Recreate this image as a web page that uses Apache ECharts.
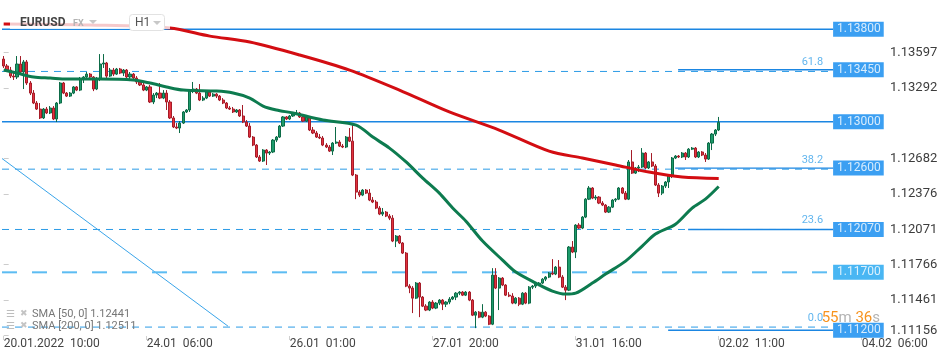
<!DOCTYPE html>
<html><head><meta charset="utf-8">
<script src="https://cdn.jsdelivr.net/npm/echarts@6/dist/echarts.min.js"></script>
<style>html,body{margin:0;padding:0;background:#fff}#c{width:950px;height:361px}</style>
</head><body><div id="c"></div>
<script>
// ---------- DATA ----------
const symbolName = 'EURUSD';
const timeframe = 'H1';
// hourly candles [open, close, low, high]
const candles = [
[1.13542,1.13482,1.13465,1.13568],[1.13482,1.13447,1.13430,1.13499],[1.13447,1.13395,1.13378,1.13474],[1.13395,1.13387,1.13361,1.13430],
[1.13387,1.13499,1.13369,1.13568],[1.13499,1.13430,1.13412,1.13568],[1.13430,1.13517,1.13283,1.13534],[1.13517,1.13335,1.13318,1.13534],
[1.13335,1.13248,1.13231,1.13352],[1.13248,1.13162,1.13153,1.13274],[1.13162,1.13110,1.13102,1.13179],[1.13110,1.13033,1.13024,1.13162],
[1.13033,1.13110,1.13024,1.13119],[1.13110,1.13076,1.13067,1.13128],[1.13076,1.13119,1.13067,1.13136],[1.13119,1.13024,1.13015,1.13136],
[1.13024,1.13162,1.12998,1.13171],[1.13162,1.13335,1.13153,1.13344],[1.13335,1.13248,1.13239,1.13344],[1.13248,1.13222,1.13214,1.13257],
[1.13222,1.13248,1.13214,1.13257],[1.13248,1.13301,1.13239,1.13309],[1.13301,1.13274,1.13265,1.13309],[1.13274,1.13369,1.13265,1.13387],
[1.13369,1.13387,1.13335,1.13395],[1.13387,1.13412,1.13369,1.13430],[1.13412,1.13387,1.13378,1.13421],[1.13387,1.13283,1.13265,1.13395],
[1.13283,1.13369,1.13274,1.13387],[1.13369,1.13499,1.13352,1.13585],[1.13499,1.13508,1.13465,1.13585],[1.13508,1.13395,1.13378,1.13517],
[1.13395,1.13447,1.13387,1.13465],[1.13447,1.13412,1.13395,1.13465],[1.13412,1.13456,1.13404,1.13465],[1.13456,1.13421,1.13412,1.13465],
[1.13421,1.13447,1.13395,1.13456],[1.13447,1.13387,1.13378,1.13456],[1.13387,1.13412,1.13352,1.13430],[1.13412,1.13378,1.13369,1.13421],
[1.13378,1.13344,1.13326,1.13395],[1.13344,1.13318,1.13309,1.13361],[1.13318,1.13274,1.13265,1.13335],[1.13274,1.13301,1.13265,1.13309],
[1.13301,1.13171,1.13162,1.13318],[1.13171,1.13231,1.13153,1.13248],[1.13231,1.13248,1.13205,1.13257],[1.13248,1.13205,1.13196,1.13335],
[1.13205,1.13248,1.13196,1.13274],[1.13248,1.13171,1.13102,1.13274],[1.13171,1.13033,1.13024,1.13188],[1.13033,1.12955,1.12946,1.13050],
[1.12955,1.12946,1.12937,1.12989],[1.12946,1.12989,1.12903,1.13006],[1.12989,1.13085,1.12981,1.13093],[1.13085,1.13102,1.13076,1.13110],
[1.13102,1.13274,1.13085,1.13283],[1.13274,1.13283,1.13248,1.13344],[1.13283,1.13248,1.13239,1.13292],[1.13248,1.13188,1.13179,1.13326],
[1.13188,1.13205,1.13179,1.13222],[1.13205,1.13257,1.13196,1.13265],[1.13257,1.13222,1.13214,1.13265],[1.13222,1.13239,1.13214,1.13248],
[1.13239,1.13222,1.13205,1.13248],[1.13222,1.13188,1.13179,1.13231],[1.13188,1.13162,1.13153,1.13205],[1.13162,1.13119,1.13110,1.13171],
[1.13119,1.13110,1.13102,1.13136],[1.13110,1.13085,1.13076,1.13128],[1.13085,1.13102,1.13076,1.13110],[1.13102,1.13050,1.13042,1.13110],
[1.13050,1.12998,1.12989,1.13145],[1.12998,1.12963,1.12955,1.13015],[1.12963,1.12868,1.12860,1.12989],[1.12868,1.12799,1.12790,1.12877],
[1.12799,1.12696,1.12687,1.12808],[1.12696,1.12661,1.12653,1.12713],[1.12661,1.12756,1.12653,1.12764],[1.12756,1.12730,1.12627,1.12764],
[1.12730,1.12739,1.12713,1.12747],[1.12739,1.12842,1.12730,1.12851],[1.12842,1.12868,1.12825,1.12877],[1.12868,1.12963,1.12860,1.12972],
[1.12963,1.13042,1.12955,1.13050],[1.13042,1.13024,1.13015,1.13050],[1.13024,1.13050,1.13015,1.13059],[1.13050,1.13067,1.13042,1.13085],
[1.13067,1.13076,1.13059,1.13102],[1.13076,1.13042,1.13033,1.13085],[1.13042,1.13006,1.12998,1.13059],[1.13006,1.13042,1.12998,1.13050],
[1.13042,1.12929,1.12920,1.13050],[1.12929,1.12903,1.12894,1.12955],[1.12903,1.12868,1.12860,1.12920],[1.12868,1.12860,1.12851,1.12894],
[1.12860,1.12799,1.12790,1.12877],[1.12799,1.12782,1.12773,1.12816],[1.12782,1.12747,1.12739,1.12799],[1.12747,1.12816,1.12713,1.12825],
[1.12816,1.12825,1.12808,1.12955],[1.12825,1.12790,1.12782,1.12842],[1.12790,1.12782,1.12773,1.12808],[1.12782,1.12868,1.12773,1.12877],
[1.12868,1.12833,1.12825,1.12946],[1.12833,1.12540,1.12531,1.12989],[1.12540,1.12393,1.12332,1.12549],[1.12393,1.12367,1.12350,1.12410],
[1.12367,1.12410,1.12358,1.12419],[1.12410,1.12384,1.12376,1.12419],[1.12384,1.12324,1.12315,1.12419],[1.12324,1.12307,1.12298,1.12350],
[1.12307,1.12255,1.12246,1.12324],[1.12255,1.12203,1.12194,1.12272],[1.12203,1.12220,1.12186,1.12255],[1.12220,1.12186,1.12177,1.12229],
[1.12186,1.12168,1.12151,1.12203],[1.12168,1.11970,1.11961,1.12194],[1.11970,1.12013,1.11918,1.12022],[1.12013,1.11953,1.11944,1.12022],
[1.11953,1.11866,1.11858,1.11961],[1.11866,1.11581,1.11572,1.11875],[1.11581,1.11564,1.11520,1.11598],[1.11564,1.11477,1.11348,1.11581],
[1.11477,1.11607,1.11469,1.11616],[1.11607,1.11486,1.11313,1.11616],[1.11486,1.11408,1.11400,1.11495],[1.11408,1.11374,1.11365,1.11425],
[1.11374,1.11443,1.11365,1.11451],[1.11443,1.11391,1.11382,1.11460],[1.11391,1.11434,1.11382,1.11443],[1.11434,1.11460,1.11417,1.11469],
[1.11460,1.11425,1.11374,1.11469],[1.11425,1.11443,1.11400,1.11451],[1.11443,1.11469,1.11425,1.11486],[1.11469,1.11486,1.11460,1.11495],
[1.11486,1.11520,1.11460,1.11529],[1.11520,1.11529,1.11503,1.11538],[1.11529,1.11503,1.11495,1.11538],[1.11503,1.11529,1.11495,1.11538],
[1.11529,1.11460,1.11451,1.11538],[1.11460,1.11330,1.11322,1.11469],[1.11330,1.11356,1.11218,1.11365],[1.11356,1.11313,1.11304,1.11365],
[1.11313,1.11356,1.11304,1.11425],[1.11356,1.11322,1.11313,1.11365],[1.11322,1.11252,1.11244,1.11330],[1.11252,1.11676,1.11244,1.11736],
[1.11676,1.11564,1.11555,1.11736],[1.11564,1.11650,1.11374,1.11659],[1.11650,1.11590,1.11581,1.11659],[1.11590,1.11503,1.11495,1.11598],
[1.11503,1.11495,1.11486,1.11529],[1.11495,1.11434,1.11425,1.11520],[1.11434,1.11477,1.11425,1.11486],[1.11477,1.11425,1.11408,1.11486],
[1.11425,1.11520,1.11417,1.11529],[1.11520,1.11434,1.11425,1.11529],[1.11434,1.11572,1.11425,1.11581],[1.11572,1.11581,1.11555,1.11590],
[1.11581,1.11598,1.11564,1.11607],[1.11598,1.11607,1.11581,1.11616],[1.11607,1.11641,1.11598,1.11650],[1.11641,1.11659,1.11624,1.11667],
[1.11659,1.11693,1.11650,1.11702],[1.11693,1.11685,1.11676,1.11814],[1.11685,1.11745,1.11676,1.11754],[1.11745,1.11659,1.11650,1.11806],
[1.11659,1.11572,1.11564,1.11676],[1.11572,1.11546,1.11460,1.11590],[1.11546,1.11918,1.11538,1.11927],[1.11918,1.11875,1.11866,1.11970],
[1.11875,1.12108,1.11823,1.12116],[1.12108,1.12082,1.12073,1.12125],[1.12082,1.12177,1.12073,1.12186],[1.12177,1.12332,1.12168,1.12341],
[1.12332,1.12428,1.12324,1.12445],[1.12428,1.12341,1.12332,1.12436],[1.12341,1.12350,1.12324,1.12367],[1.12350,1.12298,1.12289,1.12358],
[1.12298,1.12281,1.12272,1.12315],[1.12281,1.12220,1.12212,1.12289],[1.12220,1.12263,1.12212,1.12272],[1.12263,1.12324,1.12255,1.12332],
[1.12324,1.12332,1.12307,1.12341],[1.12332,1.12428,1.12324,1.12436],[1.12428,1.12384,1.12376,1.12436],[1.12384,1.12332,1.12324,1.12402],
[1.12332,1.12653,1.12324,1.12670],[1.12653,1.12557,1.12549,1.12756],[1.12557,1.12601,1.12549,1.12609],[1.12601,1.12609,1.12566,1.12627],
[1.12609,1.12730,1.12601,1.12773],[1.12730,1.12601,1.12592,1.12739],[1.12601,1.12653,1.12592,1.12661],[1.12653,1.12618,1.12609,1.12730],
[1.12618,1.12454,1.12445,1.12635],[1.12454,1.12384,1.12350,1.12471],[1.12384,1.12445,1.12367,1.12454],[1.12445,1.12480,1.12428,1.12488],
[1.12480,1.12540,1.12428,1.12549],[1.12540,1.12687,1.12514,1.12696],[1.12687,1.12704,1.12678,1.12713],[1.12704,1.12696,1.12687,1.12713],
[1.12696,1.12730,1.12687,1.12739],[1.12730,1.12696,1.12670,1.12739],[1.12696,1.12764,1.12687,1.12773],[1.12764,1.12773,1.12756,1.12782],
[1.12773,1.12696,1.12687,1.12782],[1.12696,1.12739,1.12687,1.12747],[1.12739,1.12713,1.12704,1.12747],[1.12713,1.12678,1.12653,1.12730],
[1.12678,1.12816,1.12670,1.12825],[1.12816,1.12894,1.12756,1.12903],[1.12894,1.12929,1.12877,1.12937],[1.12929,1.12995,1.12920,1.13042]
];
// moving averages sampled at candle index
const sma50 = [[0,1.13447],[4,1.13421],[9,1.13387],[14,1.13378],[19,1.13369],[29,1.13369],[39,1.13361],[44,1.13335],[49,1.13301],[54,1.13274],[64,1.13265],[69,1.13248],[74,1.13205],[78,1.13136],[82,1.13102],[87,1.13076],[96,1.13015],[106,1.12972],[111,1.12868],[116,1.12773],[121,1.12653],[126,1.12514],[131,1.12384],[135,1.12255],[139,1.12142],[144,1.11970],[150,1.11806],[154,1.11702],[160,1.11607],[165,1.11538],[169,1.11512],[172,1.11520],[177,1.11607],[181,1.11685],[187,1.11797],[192,1.11927],[196,1.12030],[202,1.12116],[207,1.12255],[211,1.12332],[215,1.12441]];
const sma200 = [[0,1.13845],[26,1.13836],[50,1.13810],[62,1.13740],[74,1.13689],[89,1.13577],[104,1.13447],[119,1.13274],[134,1.13085],[149,1.12929],[164,1.12747],[174,1.12687],[184,1.12627],[194,1.12566],[204,1.12523],[215,1.12511]];
const smaLegend = ['SMA [50, 0] 1.12441', 'SMA [200, 0] 1.12511'];
const yTicks = [1.11156, 1.11461, 1.11766, 1.12071, 1.12376, 1.12682, 1.13292, 1.13597];
const xTickCats = ['20.01 10:00','24.01 06:00','26.01 01:00','27.01 20:00','31.01 16:00','02.02 11:00','04.02 06:00'];
const xTickLabels = ['20.01.2022  10:00','24.01  06:00','26.01  01:00','27.01  20:00','31.01  16:00','02.02  11:00','04.02  06:00'];
const levelValues = [1.13800, 1.13450, 1.13000, 1.12600, 1.12070, 1.11700, 1.11200];
const fibNames = ['0.0', '23.6', '38.2', '61.8'];
const fibValues = [1.11227, 1.12070, 1.12591, 1.13435];
const trendLine = [[-0.5, 1.12683], [67.45, 1.11235]];
const lastPrice = 1.12995;
const countdown = ['55', '36'];

// hourly category axis (weekend hours skipped)
const pad = n => String(n).padStart(2, '0');
const categories = [];
(function () {
  let t = Date.UTC(2022, 0, 20, 10);
  while (categories.length < 264) {
    const d = new Date(t), wd = d.getUTCDay(), h = d.getUTCHours();
    const skip = (wd === 5 && h === 23) || wd === 6 || wd === 0;
    if (!skip) categories.push(pad(d.getUTCDate()) + '.' + pad(d.getUTCMonth() + 1) + ' ' + pad(h) + ':00');
    t += 3600000;
  }
})();

// ---------- CHART ----------
const FONT = 'Roboto, "Noto Sans", sans-serif';
const END = 249.4;
const levelStart = [-0.5, 202.8, -0.5, 201.9, 205.8, -0.5, 199.8];
const chart = echarts.init(document.getElementById('c'), null, {renderer: 'canvas'});
const series = [];

// fib dashed lines
fibValues.forEach(v => series.push({
  type: 'line', xAxisIndex: 1, silent: true, symbol: 'none', animation: false,
  data: [[-0.5, v], [END, v]],
  lineStyle: {color: '#2b9be6', width: 1, type: [7, 6]}, z: 2
}));
// level lines
levelValues.forEach((v, i) => {
  const dashed = v === 1.117;
  series.push({
    type: 'line', xAxisIndex: 1, silent: true, symbol: 'none', animation: false,
    data: [[levelStart[i], v], [END, v]],
    lineStyle: dashed ? {color: '#5cbcf2', width: 2, type: [15, 15]} : {color: '#1b86e2', width: 1.4},
    z: 3
  });
});
// trend line
series.push({
  type: 'line', xAxisIndex: 1, silent: true, symbol: 'none', animation: false,
  data: trendLine, lineStyle: {color: '#3aa5ea', width: 1}, z: 2
});
// candles
series.push({
  type: 'candlestick', xAxisIndex: 0, data: candles, barWidth: 2.6, animation: false, z: 5,
  itemStyle: {color: '#1c9b6b', color0: '#e3313e', borderColor: '#0d6b47', borderColor0: '#a51c28', borderWidth: 1},
  markLine: {
    silent: true, symbol: 'none', animation: false,
    data: [{yAxis: lastPrice}],
    lineStyle: {opacity: 0},
    label: {
      position: 'end', distance: 1, formatter: () => lastPrice.toFixed(5),
      backgroundColor: '#8b969c', color: '#fff', fontFamily: FONT, fontWeight: 'bold', fontSize: 14,
      padding: [3, 4, 2, 6]
    }
  }
});
// SMA lines
series.push({
  type: 'line', xAxisIndex: 1, data: sma200, smooth: 0.3, symbol: 'none', silent: true, animation: false,
  lineStyle: {color: '#d30d12', width: 3}, z: 6
});
series.push({
  type: 'line', xAxisIndex: 1, data: sma50, smooth: 0.3, symbol: 'none', silent: true, animation: false,
  lineStyle: {color: '#0d7b4f', width: 3}, z: 6
});
// level boxes
series.push({
  type: 'scatter', xAxisIndex: 1, symbolSize: 0, silent: true, animation: false, z: 8,
  data: levelValues.map(v => [END, v]),
  label: {
    show: true, position: 'right', distance: 0,
    formatter: p => p.value[1].toFixed(5),
    color: '#fff', fontFamily: FONT, fontSize: 12, padding: [2, 3, 1, 4],
    backgroundColor: p => '#0a87ef'
  },
  itemStyle: {color: 'transparent'}
});
// fix lighter box for 1.117
series[series.length - 1].data = levelValues.map(v => ({
  value: [END, v],
  label: {backgroundColor: v === 1.117 ? '#1ba4f0' : '#0a87ef'}
}));
// fib labels
series.push({
  type: 'scatter', xAxisIndex: 1, symbolSize: 0, silent: true, animation: false, z: 8,
  data: fibValues.map((v, i) => ({value: [END, v], name: fibNames[i]})),
  label: {
    show: true, position: 'left', distance: 10, offset: [0, -9],
    formatter: p => p.name, color: '#3aa2ea', fontFamily: FONT, fontSize: 11
  },
  itemStyle: {color: 'transparent'}
});

const option = {
  animation: false,
  backgroundColor: '#fff',
  grid: {left: 2, right: 70, top: 0, bottom: 25, containLabel: false},
  xAxis: [{
    type: 'category', data: categories, boundaryGap: true,
    axisLine: {show: false},
    axisTick: {show: true, alignWithLabel: true, length: 4, lineStyle: {color: '#cfcfcf'},
      interval: (i, v) => xTickCats.includes(v)},
    axisLabel: {
      interval: (i, v) => xTickCats.includes(v),
      formatter: v => xTickLabels[xTickCats.indexOf(v)],
      align: 'left', margin: 2, color: '#444', fontFamily: FONT, fontSize: 12
    },
    splitLine: {show: false}
  }, {
    type: 'value', min: -0.5, max: 263.5, show: false
  }],
  yAxis: {
    type: 'value', position: 'right', min: 1.11150, max: 1.14052, scale: true,
    axisLine: {show: false},
    splitLine: {show: false},
    axisTick: {show: true, length: 5, lineStyle: {color: '#cccccc'}, customValues: yTicks},
    axisLabel: {
      customValues: yTicks, margin: 10, color: '#3d3d3d', fontFamily: FONT, fontSize: 13,
      formatter: v => v === yTicks[0] ? '{lo|' + v.toFixed(5) + '}' : v.toFixed(5),
      rich: {lo: {padding: [0, 0, 9, 0], fontSize: 13, color: '#3d3d3d', fontFamily: FONT}}
    }
  },
  series: series,
  graphic: [
    {type: 'rect', shape: {x: 10, y: 14, width: 160, height: 15}, style: {fill: 'rgba(255,255,255,0.78)'}, z: 50},
    {type: 'text', x: 20, y: 23, style: {text: symbolName, fill: '#454545', font: 'bold 12px ' + FONT, textVerticalAlign: 'middle'}, z: 51},
    {type: 'text', x: 73, y: 24, style: {text: 'FX', fill: '#b3b3b3', font: 'bold 9px ' + FONT, textVerticalAlign: 'middle'}, z: 51},
    {type: 'polygon', shape: {points: [[89, 20], [97, 20], [93, 24]]}, style: {fill: '#c8c8c8'}, z: 51},
    {type: 'rect', shape: {x: 129.5, y: 14.5, width: 35, height: 16, r: 3}, style: {fill: '#fff', stroke: '#e2e2e2', lineWidth: 1}, z: 51},
    {type: 'text', x: 135, y: 23, style: {text: timeframe, fill: '#555', font: '12px ' + FONT, textVerticalAlign: 'middle'}, z: 52},
    {type: 'polygon', shape: {points: [[153, 21], [161, 21], [157, 25]]}, style: {fill: '#c8c8c8'}, z: 52},
    // SMA legend
    {type: 'text', x: 6, y: 314, style: {text: '\u2630', fill: '#bdbdbd', font: '10px "DejaVu Sans"', textVerticalAlign: 'middle'}, z: 51},
    {type: 'text', x: 20, y: 314, style: {text: '\u2716', fill: '#c4c4c4', font: '9px "DejaVu Sans"', textVerticalAlign: 'middle'}, z: 51},
    {type: 'text', x: 32, y: 314.5, style: {text: smaLegend[0], fill: '#777', font: '11px ' + FONT, textVerticalAlign: 'middle'}, z: 51},
    {type: 'text', x: 6, y: 326, style: {text: '\u2630', fill: '#bdbdbd', font: '10px "DejaVu Sans"', textVerticalAlign: 'middle'}, z: 51},
    {type: 'text', x: 20, y: 326, style: {text: '\u2716', fill: '#c4c4c4', font: '9px "DejaVu Sans"', textVerticalAlign: 'middle'}, z: 51},
    {type: 'text', x: 32, y: 326.5, style: {text: smaLegend[1], fill: '#777', font: '11px ' + FONT, textVerticalAlign: 'middle'}, z: 51},
    // countdown
    {type: 'text', x: 880, y: 318, style: {
      text: '{o|' + countdown[0] + '}{g|m }{o|' + countdown[1] + '}{g|s}',
      textAlign: 'right', textVerticalAlign: 'middle',
      rich: {o: {fill: '#f7931e', font: '15px ' + FONT}, g: {fill: '#b3b3b3', font: '15px ' + FONT}}
    }, z: 51}
  ]
};
chart.setOption(option);
</script>
</body></html>
